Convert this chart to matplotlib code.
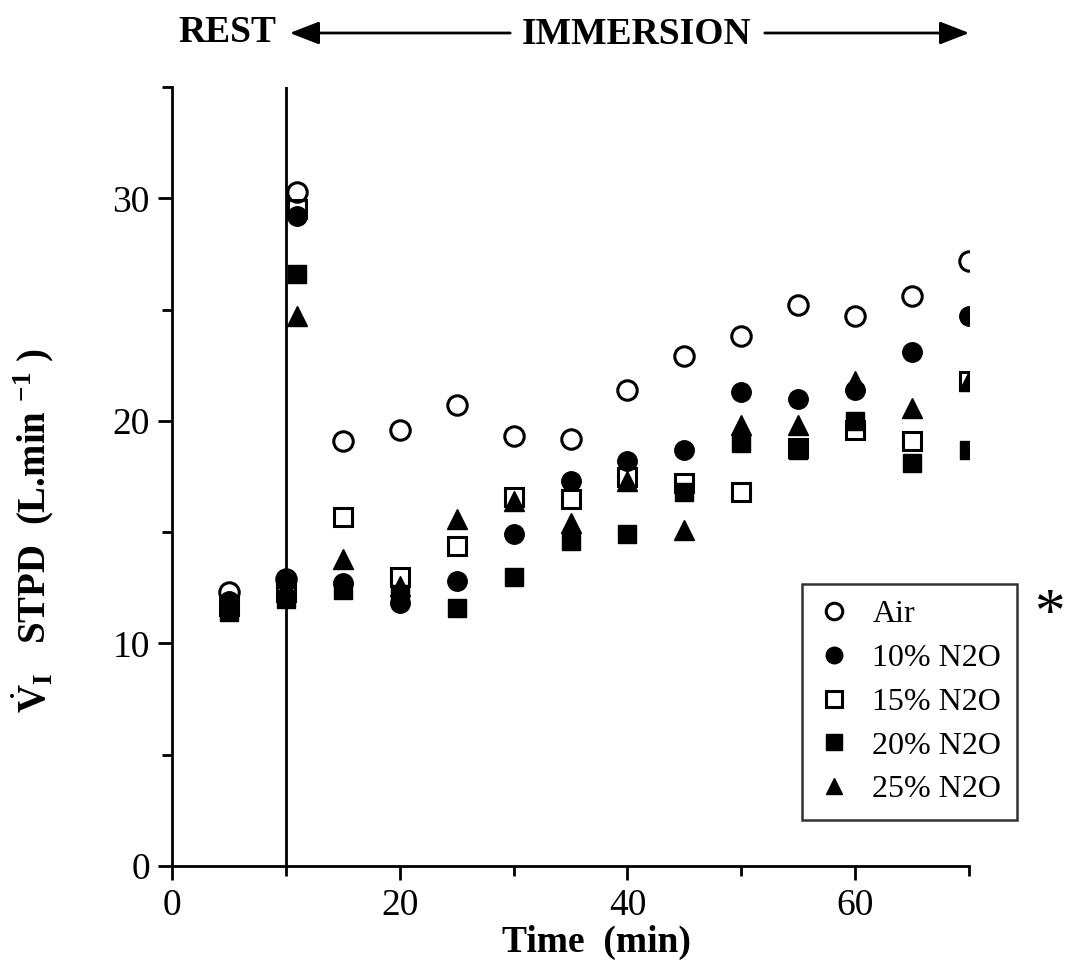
#!/usr/bin/env python3

import matplotlib
matplotlib.use('Agg')
import matplotlib.pyplot as plt
from matplotlib.patches import FancyArrowPatch

plt.rcParams['font.family'] = ['Liberation Serif', 'DejaVu Serif']
plt.rcParams['mathtext.fontset'] = 'custom'
plt.rcParams['mathtext.rm'] = 'Liberation Serif'
plt.rcParams['mathtext.bf'] = 'Liberation Serif:bold'

# time points (min); 10 = start of immersion, 11 = first immersion sample
time = [5, 10, 11, 15, 20, 25, 30, 35, 40, 45, 50, 55, 60, 65, 70]

air = [12.3, 12.9, 30.3, 19.1, 19.6, 20.7, 19.3, 19.2, 21.4, 22.9, 23.8, 25.2, 24.7, 25.6, 27.2]
n2o_10 = [11.9, 12.8, 29.2, 12.7, 11.8, 12.8, 14.9, 17.3, 18.2, 18.7, 21.3, 21.0, 21.4, 23.1, 24.7]
n2o_15 = [11.7, 12.3, 29.5, 15.7, 13.0, 14.4, 16.6, 16.5, 17.5, 17.2, 16.8, 18.8, 19.6, 19.1, 21.8]
n2o_20 = [11.4, 12.0, 26.6, 12.4, 12.2, 11.6, 13.0, 14.6, 14.9, 16.8, 19.0, 18.7, 20.0, 18.1, 18.7]
n2o_25 = [11.8, 12.3, 24.7, 13.8, 12.6, 15.6, 16.4, 15.4, 17.3, 15.1, 19.8, 19.8, 21.8, 20.6, 21.8]

labels = ['Air', '10% N2O', '15% N2O', '20% N2O', '25% N2O']

fig = plt.figure(figsize=(10.67, 9.66), dpi=100)
ax = fig.add_axes([0.1612, 0.1035, 0.747, 0.8064])

ms = 14
ax.plot(time, air, 'o', ms=ms, mfc='none', mec='black', mew=2.2, label=labels[0])
ax.plot(time, n2o_10, 'o', ms=ms, mfc='black', mec='black', label=labels[1])
ax.plot(time, n2o_15, 's', ms=ms - 1, mfc='none', mec='black', mew=2.2, label=labels[2])
ax.plot(time, n2o_20, 's', ms=ms - 1, mfc='black', mec='black', label=labels[3])
ax.plot(time, n2o_25, '^', ms=ms, mfc='black', mec='black', label=labels[4])

ax.axvline(10, color='black', lw=2)

ax.set_xlim(0, 70)
ax.set_ylim(0, 35)
ax.set_xticks([0, 20, 40, 60])
ax.set_xticks([10, 30, 50, 70], minor=True)
ax.set_yticks([0, 10, 20, 30])
ax.set_yticks([5, 15, 25, 35], minor=True)

for s in ['top', 'right']:
    ax.spines[s].set_visible(False)
for s in ['left', 'bottom']:
    ax.spines[s].set_linewidth(2)

ax.tick_params(which='major', direction='out', length=10, width=2, labelsize=27, pad=6)
ax.tick_params(which='minor', direction='out', length=7, width=2)

ax.set_xlabel('Time  (min)', fontsize=27, fontweight='bold')
ax.xaxis.set_label_coords(0.532, -0.075)
ax.set_ylabel(r'$\dot{\mathbf{V}}_{\mathbf{I}}$   STPD  (L.min $^{\mathbf{-1}}$ )',
              fontsize=28, fontweight='bold')
ax.yaxis.set_label_coords(-0.144, 0.431)

leg = ax.legend(loc='upper left', bbox_to_anchor=(802 / 1067, 1 - 584 / 966),
                bbox_transform=fig.transFigure, fontsize=23, frameon=True,
                fancybox=False, edgecolor='black', borderaxespad=0,
                markerscale=0.85, handlelength=1.0, handletextpad=0.7,
                labelspacing=0.45, borderpad=0.5)
leg.get_frame().set_linewidth(1.8)

# top annotation
fig.text(178 / 1067, 1 - 32 / 966, 'REST', fontsize=27, fontweight='bold',
         ha='left', va='center')
fig.text(637 / 1067, 1 - 34 / 966, 'IMMERSION', fontsize=27, fontweight='bold',
         ha='center', va='center')
arrow = dict(arrowstyle='-|>,head_length=0.9,head_width=0.35', color='black', lw=2)
fig.add_artist(FancyArrowPatch((513 / 1067, 1 - 33 / 966), (287 / 1067, 1 - 33 / 966),
                               transform=fig.transFigure, mutation_scale=20, **arrow))
fig.add_artist(FancyArrowPatch((762 / 1067, 1 - 33 / 966), (972 / 1067, 1 - 33 / 966),
                               transform=fig.transFigure, mutation_scale=20, **arrow))

fig.text(1049 / 1067, 1 - 615 / 966, '*', fontsize=44, ha='center', va='center')

fig.savefig('out.png', dpi=100)
